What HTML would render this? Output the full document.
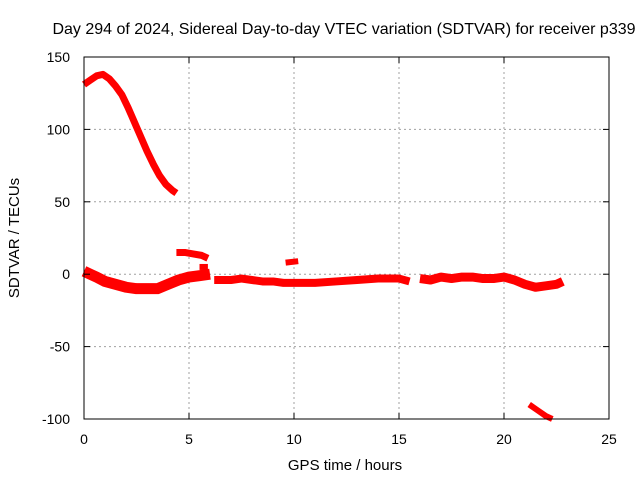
<!DOCTYPE html>
<html><head><meta charset="utf-8"><style>
body{margin:0;background:#fff;}
svg text{font-family:"Liberation Sans",sans-serif;font-size:14px;fill:#000;}
</style></head><body>
<svg id="chart" width="640" height="480" xmlns="http://www.w3.org/2000/svg">
<text x="344" y="34" text-anchor="middle" style="font-size:16px">Day 294 of 2024, Sidereal Day-to-day VTEC variation (SDTVAR) for receiver p339</text>
<text x="345" y="470" text-anchor="middle" style="font-size:15px">GPS time / hours</text>
<text transform="translate(19,238) rotate(-90)" text-anchor="middle" style="font-size:15px">SDTVAR / TECUs</text>
<g id="grid"></g><g id="series"></g>
<rect x="84" y="57" width="525" height="362" fill="none" stroke="#000" stroke-width="1"/>
<g id="ticks"></g>
</svg>
<script>
const xTicks=[0,5,10,15,20,25];
const yTicks=[150,100,50,0,-50,-100];
const segAHours=[0,0.3,0.6,0.9,1.2,1.5,1.8,2.1,2.4,2.7,3.0,3.3,3.6,3.9,4.2,4.4];
const segAVals=[131,134,137,138,135,130,124,115,105,95,85,76,68,62,58,56];
const segBHours=[0,0.3,0.6,1,1.5,2,2.5,3,3.5,4,4.5,5,5.5,6];
const segBVals=[2,0,-2,-5,-7,-9,-10,-10,-10,-7,-4,-2,-1,0];
const segCHours=[6.2,7,7.5,8,8.5,9,9.5,10,10.5,11,12,13,14,15,15.5];
const segCVals=[-4,-4,-3,-4,-5,-5,-6,-6,-6,-6,-5,-4,-3,-3,-5];
const segDHours=[16,16.5,17,17.5,18,18.5,19,19.5,20,20.5,21,21.5,22,22.5,22.8];
const segDVals=[-3,-4,-2,-3,-2,-2,-3,-3,-2,-4,-7,-9,-8,-7,-5];
const segEHours=[4.4,4.8,5.2,5.6,5.9];
const segEVals=[15,15,14,13,11];
const segFHours=[5.5,5.9];
const segFVals=[5,5];
const segGHours=[9.6,10.2];
const segGVals=[8,9];
const segHHours=[21.2,21.6,22,22.3];
const segHVals=[-90,-94,-98,-100];
const X=h=>84+h*21, Y=v=>274.2-v*1.448;
const NS='http://www.w3.org/2000/svg';
const grid=document.getElementById('grid'),ticks=document.getElementById('ticks'),ser=document.getElementById('series');
function mk(t,a,p){const e=document.createElementNS(NS,t);for(const k in a)e.setAttribute(k,a[k]);p.appendChild(e);return e;}
xTicks.forEach(t=>{
 if(t>0&&t<25){const g=mk('line',{x1:X(t),x2:X(t),y1:57,y2:419,stroke:'#a0a0a0','stroke-dasharray':'2,3'},grid);
 
 }
 const l=mk('text',{x:X(t),y:444,'text-anchor':'middle'},ticks);l.textContent=t;
 
 
 mk('line',{x1:X(t),x2:X(t),y1:419,y2:413,stroke:'#000'},ticks);
 mk('line',{x1:X(t),x2:X(t),y1:57,y2:63,stroke:'#000'},ticks);
});
yTicks.forEach(t=>{
 if(t<150&&t>-100){const g=mk('line',{x1:84,x2:609,y1:Y(t),y2:Y(t),stroke:'#a0a0a0','stroke-dasharray':'2,3'},grid);
 
 }
 const l=mk('text',{x:70,y:Y(t)+5,'text-anchor':'end'},ticks);l.textContent=t;
 
 
 mk('line',{x1:84,x2:90,y1:Y(t),y2:Y(t),stroke:'#000'},ticks);
 mk('line',{x1:609,x2:603,y1:Y(t),y2:Y(t),stroke:'#000'},ticks);
});
[[segAHours,segAVals,7],[segBHours,segBVals,11],[segCHours,segCVals,8],[segDHours,segDVals,9],[segEHours,segEVals,7],[segFHours,segFVals,6],[segGHours,segGVals,6],[segHHours,segHVals,6]].forEach(([hs,vs,w])=>{
 const p=mk('polyline',{points:hs.map((h,i)=>X(h)+','+Y(vs[i])).join(' '),fill:'none',stroke:'#ff0000','stroke-width':w,'stroke-linejoin':'round'},ser);
 
 
});
</script>
</body></html>
